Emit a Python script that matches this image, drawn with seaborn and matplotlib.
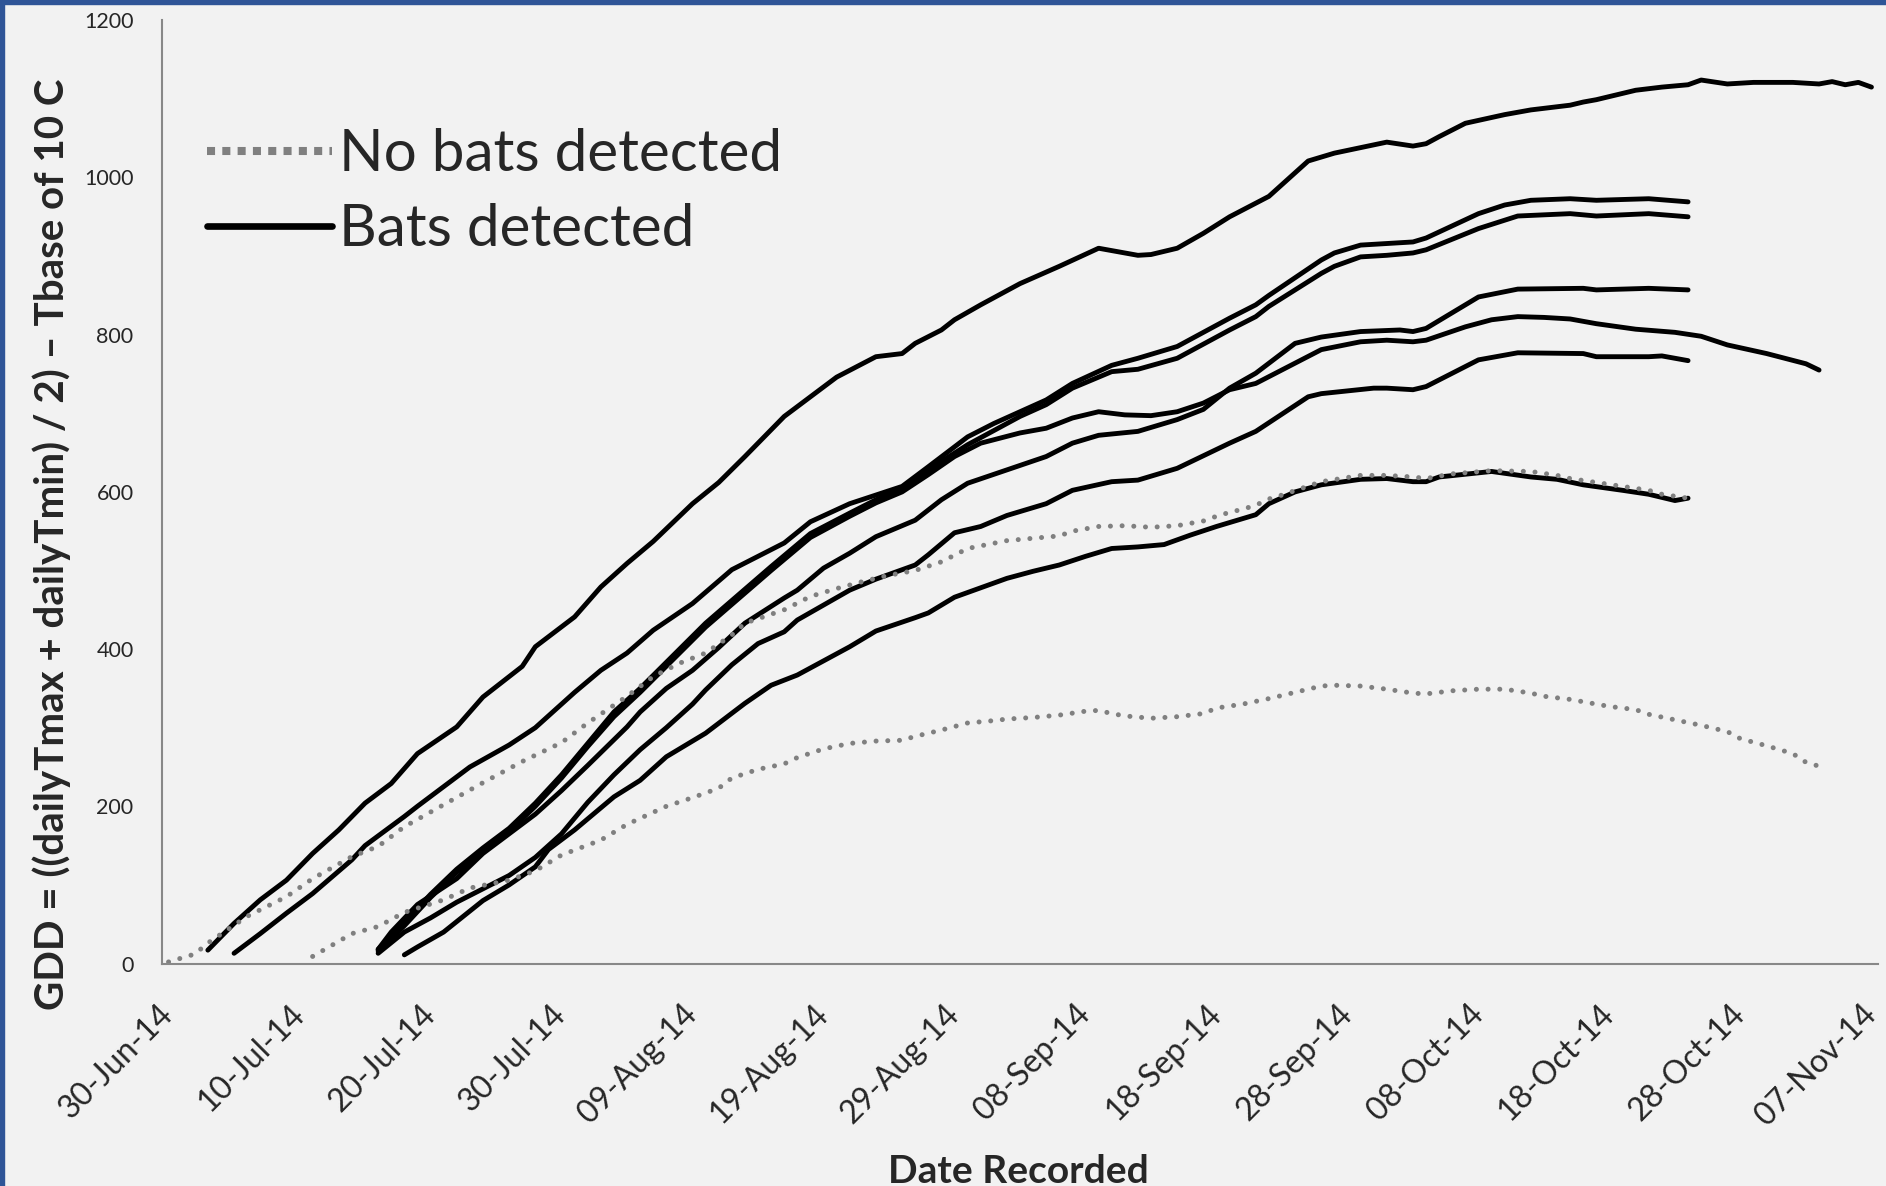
import pandas as pd
import seaborn as sns
import matplotlib.pyplot as plt
from matplotlib.lines import Line2D
from matplotlib.patches import Rectangle

# Days counted from the first date on the axis
START = pd.Timestamp('2014-06-30')
LAST_DAY = 130

tick_labels = ['30-Jun-14', '10-Jul-14', '20-Jul-14', '30-Jul-14', '09-Aug-14', '19-Aug-14',
               '29-Aug-14', '08-Sep-14', '18-Sep-14', '28-Sep-14', '08-Oct-14', '18-Oct-14',
               '28-Oct-14', '07-Nov-14']
y_ticks = [0, 200, 400, 600, 800, 1000, 1200]

# No bats detected (dotted)
nobats_1_day = [0, 2, 3, 6, 9, 11, 14, 16, 18, 21, 24, 27, 30, 32, 35, 37, 39, 41, 43, 44,
                47, 49, 51, 53, 55, 57, 59, 61, 64, 66, 68, 69, 71, 73, 75, 77, 79, 80, 81, 82,
                83, 84, 85, 88, 91, 93, 95, 96, 98, 101, 104, 106, 107, 109, 111, 113, 114, 116]
nobats_1_gdd = [2, 12, 26, 60, 85, 108, 136, 149, 174, 202, 230, 257, 281, 306, 340, 365, 382, 395, 418, 433,
                450, 467, 477, 486, 494, 500, 511, 528, 538, 541, 544, 550, 556, 557, 555, 557, 563, 569, 574, 578,
                583, 591, 596, 613, 621, 621, 619, 617, 623, 627, 626, 621, 617, 612, 607, 602, 597, 592]

nobats_2_day = [11, 14, 16, 18, 21, 23, 26, 28, 30, 33, 35, 38, 40, 42, 43, 45, 47, 48, 50, 52,
                54, 56, 57, 59, 61, 63, 64, 66, 68, 70, 71, 72, 73, 75, 77, 79, 80, 82, 84, 86,
                88, 89, 91, 93, 95, 96, 98, 100, 102, 104, 105, 107, 108, 110, 112, 113, 115, 117, 119, 120,
                122, 124, 125, 126]
nobats_2_gdd = [9, 38, 47, 65, 81, 96, 106, 118, 138, 157, 177, 200, 211, 223, 236, 247, 254, 262, 273, 280,
                283, 284, 289, 297, 306, 309, 311, 313, 316, 321, 322, 318, 315, 312, 314, 318, 325, 330, 337, 345,
                353, 354, 353, 349, 344, 343, 347, 349, 349, 344, 340, 336, 333, 327, 323, 317, 310, 303, 295, 286,
                277, 267, 256, 251]

# Bats detected (solid)
bats_1_day = [3, 5, 7, 9, 11, 13, 15, 17, 19, 22, 24, 27, 28, 31, 33, 35, 37, 40, 42, 44,
              47, 51, 54, 56, 57, 59, 60, 62, 65, 68, 71, 72, 74, 75, 77, 79, 81, 84, 87, 89,
              91, 93, 95, 96, 97, 99, 102, 104, 107, 108, 109, 112, 114, 116, 117, 119, 121, 124, 126, 127,
              128, 129, 130]
bats_1_gdd = [17, 51, 81, 106, 140, 170, 204, 229, 267, 301, 339, 378, 403, 441, 479, 509, 537, 585, 612, 645,
              696, 746, 772, 776, 789, 806, 819, 838, 865, 887, 910, 907, 901, 902, 910, 929, 950, 976, 1021, 1031,
              1038, 1045, 1040, 1043, 1052, 1069, 1080, 1086, 1092, 1096, 1099, 1111, 1115, 1118, 1124, 1119, 1121, 1121, 1119, 1122,
              1118, 1121, 1115]

bats_2_day = [5, 7, 9, 11, 14, 15, 18, 19, 21, 23, 26, 28, 31, 33, 35, 37, 40, 43, 47, 49,
              52, 54, 56, 58, 61, 63, 65, 67, 69, 72, 74, 77, 81, 83, 84, 88, 89, 91, 93, 95,
              96, 100, 102, 104, 107, 109, 113, 116]
bats_2_gdd = [13, 38, 64, 89, 132, 150, 187, 200, 225, 250, 278, 300, 345, 373, 395, 424, 458, 501, 535, 562,
              585, 596, 607, 632, 670, 687, 702, 717, 738, 761, 770, 785, 821, 838, 850, 895, 904, 914, 916, 918,
              923, 954, 965, 971, 973, 971, 973, 969]

bats_3_day = [16, 18, 20, 22, 24, 26, 28, 30, 32, 34, 36, 41, 46, 49, 52, 54, 56, 58, 61, 65,
              67, 69, 72, 74, 77, 81, 83, 84, 88, 89, 91, 93, 95, 96, 100, 103, 107, 109, 113, 116]
bats_3_gdd = [18, 52, 88, 120, 147, 172, 204, 240, 280, 320, 350, 433, 505, 547, 573, 590, 604, 628, 660, 696,
              711, 732, 753, 756, 770, 806, 823, 836, 878, 887, 899, 901, 904, 908, 935, 951, 954, 951, 954, 950]

bats_4_day = [16, 18, 20, 22, 24, 26, 28, 30, 32, 34, 36, 41, 46, 49, 52, 54, 56, 58, 60, 62,
              65, 67, 69, 71, 73, 75, 77, 79, 81, 83, 88, 91, 93, 95, 96, 99, 101, 103, 105, 107,
              109, 112, 115, 117, 119, 122, 125, 126]
bats_4_gdd = [16, 48, 84, 116, 143, 168, 200, 236, 276, 314, 345, 428, 500, 542, 569, 586, 600, 622, 645, 662,
              675, 681, 694, 702, 698, 697, 702, 713, 730, 738, 781, 791, 793, 791, 793, 810, 819, 823, 822, 820,
              814, 807, 803, 798, 787, 776, 763, 755]

bats_5_day = [16, 17, 19, 22, 24, 26, 28, 30, 32, 35, 36, 38, 40, 42, 44, 47, 48, 50, 52, 54,
              57, 59, 61, 64, 67, 69, 71, 74, 77, 79, 81, 83, 86, 88, 91, 94, 95, 96, 100, 103,
              108, 109, 113, 116]
bats_5_gdd = [18, 40, 75, 108, 140, 165, 190, 220, 252, 301, 320, 350, 373, 402, 433, 465, 475, 503, 522, 543,
              564, 590, 611, 628, 645, 662, 672, 677, 692, 705, 732, 751, 789, 797, 804, 806, 804, 808, 848, 858,
              859, 857, 859, 857]

bats_6_day = [16, 18, 20, 22, 24, 26, 28, 30, 32, 34, 36, 38, 40, 41, 43, 45, 47, 48, 50, 52,
              54, 57, 58, 60, 62, 64, 67, 69, 72, 74, 77, 81, 83, 87, 88, 92, 93, 95, 96, 100,
              103, 108, 109, 113, 114, 116]
bats_6_gdd = [13, 40, 58, 78, 95, 112, 135, 165, 205, 240, 272, 300, 330, 348, 380, 407, 422, 437, 456, 475,
              489, 507, 520, 548, 556, 570, 585, 602, 613, 615, 630, 662, 677, 721, 725, 732, 732, 730, 734, 768,
              777, 776, 772, 772, 773, 767]

bats_7_day = [18, 19, 21, 24, 26, 28, 29, 31, 34, 36, 38, 41, 44, 46, 48, 52, 54, 57, 58, 60,
              64, 66, 68, 70, 72, 74, 76, 77, 78, 80, 83, 84, 86, 88, 91, 93, 95, 96, 97, 101,
              104, 106, 108, 111, 113, 115, 116]
bats_7_gdd = [11, 21, 40, 80, 100, 123, 145, 170, 212, 233, 263, 293, 331, 354, 367, 403, 423, 440, 446, 466,
              490, 499, 507, 518, 528, 530, 533, 539, 545, 556, 571, 585, 600, 609, 616, 617, 613, 613, 619, 626,
              619, 616, 609, 602, 597, 589, 592]

nobats = [(nobats_1_day, nobats_1_gdd), (nobats_2_day, nobats_2_gdd)]
bats = [(bats_1_day, bats_1_gdd), (bats_2_day, bats_2_gdd), (bats_3_day, bats_3_gdd),
        (bats_4_day, bats_4_gdd), (bats_5_day, bats_5_gdd), (bats_6_day, bats_6_gdd),
        (bats_7_day, bats_7_gdd)]


def to_dates(days):
    return START + pd.to_timedelta(days, unit='D')


BG = '#F2F2F2'
AXC = '#888888'
DOT = '#808080'

sns.set_style('white')
plt.rcParams['font.family'] = ['Lato', 'DejaVu Sans']

W, H = 1886, 1186
fig = plt.figure(figsize=(W / 100, H / 100), dpi=100, facecolor=BG)
ax = fig.add_axes([162 / W, (H - 963.5) / H, (1878 - 162) / W, (963.5 - 20.3) / H])
ax.set_facecolor(BG)

for days, gdd in bats:
    sns.lineplot(x=to_dates(days), y=gdd, ax=ax, color='black', linewidth=3.5,
                 solid_capstyle='round', solid_joinstyle='round', legend=False)
for days, gdd in nobats:
    sns.lineplot(x=to_dates(days), y=gdd, ax=ax, color=DOT, linewidth=3.6,
                 linestyle=(0, (0.01, 2.33)), dash_capstyle='round', legend=False)

# axes
ax.set_ylim(0, 1200)
ax.set_yticks(y_ticks)
ax.set_yticklabels([str(v) for v in y_ticks], fontsize=15.5)
ax.set_xlim(START - pd.Timedelta(hours=12), START + pd.Timedelta(days=LAST_DAY, hours=12))

label_dates = pd.to_datetime(tick_labels, format='%d-%b-%y')
ax.set_xticks(label_dates)
ax.set_xticklabels(tick_labels, fontsize=23, rotation=45, ha='right', va='center',
                   rotation_mode='anchor')
bounds = START - pd.Timedelta(hours=12) + pd.to_timedelta(range(LAST_DAY + 2), unit='D')
ax.set_xticks(bounds, minor=True)
ax.tick_params(axis='x', which='major', length=0, pad=33)
ax.tick_params(axis='x', which='minor', length=8.6, width=1.2, color=AXC, direction='out')
ax.tick_params(axis='y', length=6.5, width=1.2, color=AXC, direction='out', pad=14)
ax.set_xlabel('')
ax.set_ylabel('')

for s in ['top', 'right']:
    ax.spines[s].set_visible(False)
for s in ['left', 'bottom']:
    ax.spines[s].set_color(AXC)
    ax.spines[s].set_linewidth(1.5)

# legend
handles = [Line2D([], [], color=DOT, lw=5.8, linestyle=(0, (1, 0.9)), dash_capstyle='butt'),
           Line2D([], [], color='black', lw=4.8)]
fig.legend(handles, ['No bats detected', 'Bats detected'], loc='upper left',
           bbox_to_anchor=(207 / W, 1 - 128 / H), frameon=False, fontsize=42,
           handlelength=2.15, handletextpad=0.12, borderpad=0, borderaxespad=0,
           labelspacing=0.38)

# titles
fig.text(52 / W, 1 - 544 / H, 'GDD = ((dailyTmax + dailyTmin) / 2) \u2013 Tbase of 10 C',
         rotation=90, ha='center', va='center', fontsize=29, fontweight='bold')
fig.text(1018 / W, 3 / H, 'Date Recorded', ha='center', va='baseline',
         fontsize=28, fontweight='bold')

# blue frame on top and left edges
fig.add_artist(Rectangle((0, 1 - 4 / H), 1, 4 / H, transform=fig.transFigure,
                         color='#2F5597', zorder=10))
fig.add_artist(Rectangle((0, 0), 4 / W, 1, transform=fig.transFigure,
                         color='#2F5597', zorder=10))

fig.savefig('out.png', dpi=100, facecolor=BG)
